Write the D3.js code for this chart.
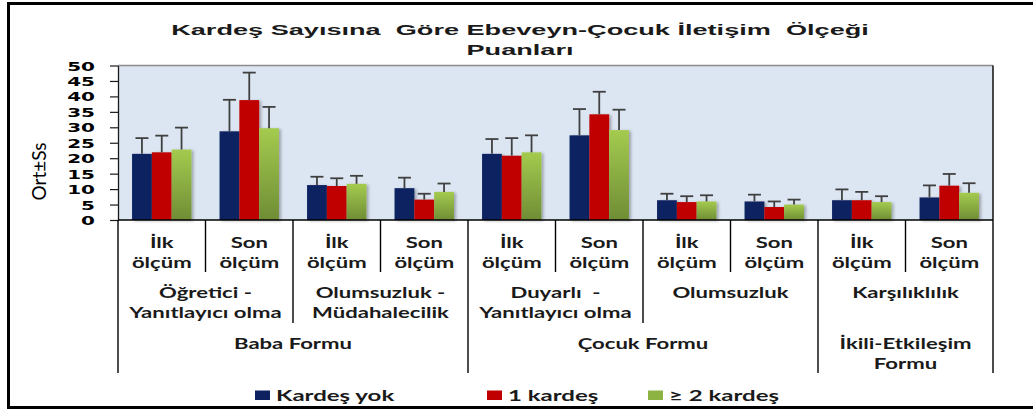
<!DOCTYPE html>
<html>
<head>
<meta charset="utf-8">
<script src="https://cdn.jsdelivr.net/npm/d3@7"></script>
<style>
  html, body { margin: 0; padding: 0; background: #fff; }
  svg { display: block; }
</style>
</head>
<body>
<svg id="chart" width="1033" height="412"></svg>
<script>
// chart data
const olcumler = ["İlk ölçüm", "Son ölçüm", "İlk ölçüm", "Son ölçüm", "İlk ölçüm",
                  "Son ölçüm", "İlk ölçüm", "Son ölçüm", "İlk ölçüm", "Son ölçüm"];
const altOlcekler = [["Öğretici -", "Yanıtlayıcı olma"], ["Olumsuzluk -", "Müdahalecilik"],
                     ["Duyarlı  -", "Yanıtlayıcı olma"], ["Olumsuzluk"], ["Karşılıklılık"]];
const formlar = [["Baba Formu"], ["Çocuk Formu"], ["İkili-Etkileşim", "Formu"]];
const formSpan = [4, 4, 2];

const seriler = ["Kardeş yok", "1 kardeş", "≥ 2 kardeş"];
const kardesYok = [21.4, 28.7, 11.3, 10.3, 21.4, 27.4, 6.4, 6.0, 6.4, 7.3];
const birKardes = [21.9, 38.8, 11.0, 6.6, 20.8, 34.2, 5.8, 4.2, 6.4, 11.1];
const ikiKardes = [22.8, 29.7, 11.7, 9.1, 21.9, 29.1, 6.0, 5.0, 5.8, 8.8];
const ssYok = [5.1, 10.2, 2.7, 3.4, 4.8, 8.5, 2.1, 2.2, 3.5, 3.9];
const ssBir = [5.4, 8.9, 2.5, 1.9, 5.7, 7.3, 1.9, 1.8, 2.7, 3.8];
const ssIki = [7.1, 6.9, 2.6, 2.7, 5.5, 6.6, 2.0, 1.6, 1.9, 3.1];
const yTicks = d3.range(0, 51, 5);

const means = [kardesYok, birKardes, ikiKardes];
const sds = [ssYok, ssBir, ssIki];
const colors = ["#0d2161", "#c00000", "url(#greenGrad)"];
const legendColors = ["#0d2161", "#c00000", "#8db443"];

// layout
const plotLeft = 118, plotRight = 993, plotTop = 65.5, plotBottom = 220;
const SX = 1.38;   // the original picture is stretched sideways

const svg = d3.select("#chart");
const defs = svg.append("defs");
const grad = defs.append("linearGradient").attr("id", "greenGrad")
    .attr("x1", 0).attr("y1", 0).attr("x2", 0).attr("y2", 1);
grad.append("stop").attr("offset", "0%").attr("stop-color", "#a4cb4f");
grad.append("stop").attr("offset", "100%").attr("stop-color", "#6f8d35");
const shadow = defs.append("filter").attr("id", "shadow")
    .attr("x", "-20%").attr("y", "-20%").attr("width", "160%").attr("height", "140%");
shadow.append("feDropShadow").attr("dx", 2).attr("dy", 1)
    .attr("stdDeviation", 1.5).attr("flood-color", "#000").attr("flood-opacity", 0.3);

// outer frame
svg.append("rect").attr("x", 8.5).attr("y", 3.5).attr("width", 1040).attr("height", 404)
    .attr("fill", "#fff").attr("stroke", "#000").attr("stroke-width", 3);

function stretchedText(g, x, y, str, sx) {
  return g.append("text")
      .attr("transform", `translate(${x},${y}) scale(${sx},1)`)
      .text(str);
}

// title
const title = svg.append("g").attr("font-family", "Liberation Sans, Arial, sans-serif")
    .attr("font-weight", "bold").attr("font-size", 15.5).attr("text-anchor", "middle")
    .attr("fill", "#1a1a1a");
stretchedText(title, 520, 34.5, "Kardeş Sayısına  Göre Ebeveyn-Çocuk İletişim  Ölçeği", 1.75)
    .style("white-space", "pre");
stretchedText(title, 520, 55, "Puanları", 1.75);

// scales
const x0 = d3.scaleBand().domain(d3.range(olcumler.length)).range([plotLeft, plotRight]);
const x1 = d3.scaleBand().domain(d3.range(seriler.length))
    .range([0, x0.bandwidth()]).paddingOuter(0.71);
const y = d3.scaleLinear().domain([0, 50]).range([plotBottom, plotTop]);

// plot background
svg.append("rect").attr("x", plotLeft).attr("y", plotTop)
    .attr("width", plotRight - plotLeft).attr("height", plotBottom - plotTop).attr("fill", "#dce6f2");
svg.append("line").attr("x1", plotLeft).attr("x2", plotRight).attr("y1", plotTop).attr("y2", plotTop)
    .attr("stroke", "#8c8c8c").attr("stroke-width", 1.5);

// bars
const barsG = svg.append("g").attr("filter", "url(#shadow)");
seriler.forEach((s, si) => {
  barsG.selectAll(null).data(means[si]).enter().append("rect")
      .attr("x", (d, i) => x0(i) + x1(si))
      .attr("y", d => y(d))
      .attr("width", x1.bandwidth())
      .attr("height", d => y(0) - y(d))
      .attr("fill", colors[si]);
});

// error bars (upward only)
const errG = svg.append("g").attr("stroke", "#404040").attr("stroke-width", 1.8);
seriler.forEach((s, si) => {
  const cx = i => x0(i) + x1(si) + x1.bandwidth() / 2;
  means[si].forEach((m, i) => {
    const yt = y(m + sds[si][i]);
    errG.append("line").attr("x1", cx(i)).attr("x2", cx(i)).attr("y1", y(m)).attr("y2", yt);
    errG.append("line").attr("x1", cx(i) - 6.5).attr("x2", cx(i) + 6.5).attr("y1", yt).attr("y2", yt);
  });
});

// y axis
const yAxis = svg.append("g").attr("transform", `translate(${plotLeft},0)`)
    .call(d3.axisLeft(y).tickValues(yTicks).tickSize(8).tickSizeOuter(0));
yAxis.select(".domain").attr("stroke", "#1a1a1a").attr("stroke-width", 1.3);
yAxis.selectAll(".tick line").attr("stroke", "#1a1a1a").attr("stroke-width", 1.2);
yAxis.selectAll(".tick text")
    .attr("x", null).attr("dy", "0.36em")
    .attr("transform", "translate(-23,0) scale(1.6,1)")
    .attr("font-family", "DejaVu Sans, sans-serif").attr("font-weight", "bold")
    .attr("font-size", 12.5).attr("fill", "#000");

// y title
svg.append("text")
    .attr("transform", "translate(46,171.5) rotate(-90)")
    .attr("text-anchor", "middle").attr("font-family", "Lato, sans-serif")
    .attr("font-size", 19).attr("fill", "#000").text("Ort±Ss");

// category axis lines
const lines = svg.append("g").attr("stroke", "#000").attr("stroke-width", 1.4);
lines.append("line").attr("x1", plotLeft).attr("x2", plotRight).attr("y1", plotBottom).attr("y2", plotBottom);
lines.append("line").attr("x1", plotLeft).attr("x2", plotLeft).attr("y1", plotBottom).attr("y2", 373);
lines.append("line").attr("x1", plotRight).attr("x2", plotRight).attr("y1", plotTop).attr("y2", 373);
d3.range(1, olcumler.length).forEach(k => {
  const xk = x0(k);
  let y2 = 272;
  if (k === 4 || k === 8) y2 = 373;
  else if (k % 2 === 0) y2 = 323;
  lines.append("line").attr("x1", xk).attr("x2", xk).attr("y1", plotBottom).attr("y2", y2);
});

// category labels
const lab = svg.append("g").attr("font-family", "Lato, sans-serif").attr("font-weight", "bold")
    .attr("font-size", 16).attr("text-anchor", "middle").attr("fill", "#1a1a1a");
olcumler.forEach((o, i) => {
  const cx = x0(i) + x0.bandwidth() / 2;
  const parts = o.split(" ");
  stretchedText(lab, cx, 247.5, parts[0], SX);
  stretchedText(lab, cx, 267.5, parts[1], SX);
});
altOlcekler.forEach((a, j) => {
  const cx = x0(j * 2 + 1);
  a.forEach((t, li) => stretchedText(lab, cx, 298 + li * 19.5, t, SX).style("white-space", "pre"));
});
let start = 0;
formlar.forEach((f, j) => {
  const cx = (x0(start) + x0(start + formSpan[j] - 1) + x0.bandwidth()) / 2;
  f.forEach((t, li) => stretchedText(lab, cx, 349 + li * 19.5, t, SX));
  start += formSpan[j];
});

// legend
const legendX = [255, 487, 648];
const leg = svg.append("g").attr("font-family", "Lato, sans-serif").attr("font-weight", "bold")
    .attr("font-size", 16).attr("fill", "#1a1a1a");
seriler.forEach((s, si) => {
  leg.append("rect").attr("x", legendX[si]).attr("y", 390.5).attr("width", 15).attr("height", 9.5)
      .attr("fill", legendColors[si]);
  stretchedText(leg, legendX[si] + 21, 400.5, s, 1.5);
});
</script>
</body>
</html>
